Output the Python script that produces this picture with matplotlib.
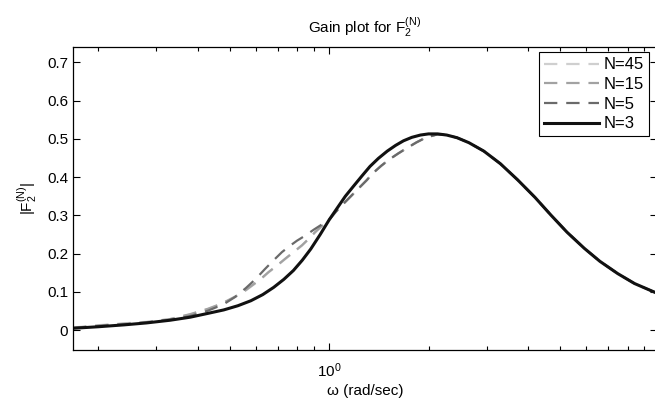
import matplotlib
matplotlib.use("Agg")
import matplotlib.pyplot as plt
from matplotlib.ticker import FixedLocator, FuncFormatter, LogLocator, NullFormatter

plt.rcParams['font.family'] = ['Liberation Sans', 'DejaVu Sans']
plt.rcParams['mathtext.default'] = 'regular'

# N=3 (solid)
w_n3 = [0.168, 0.20, 0.24, 0.28, 0.33, 0.38, 0.43, 0.48, 0.53, 0.58, 0.63, 0.68, 0.73,
        0.78, 0.83, 0.88, 0.94, 1.0, 1.06, 1.12, 1.19, 1.26, 1.33, 1.41, 1.50, 1.59,
        1.68, 1.78, 1.89, 2.0, 2.13, 2.27, 2.44, 2.65, 2.94, 3.3, 3.72, 4.2, 4.69,
        5.25, 5.92, 6.6, 7.47, 8.4, 9.8]
g_n3 = [0.005, 0.009, 0.014, 0.019, 0.026, 0.034, 0.044, 0.053, 0.064, 0.077, 0.093,
        0.112, 0.133, 0.156, 0.183, 0.212, 0.250, 0.288, 0.320, 0.350, 0.378, 0.404,
        0.428, 0.449, 0.468, 0.483, 0.495, 0.504, 0.510, 0.513, 0.513, 0.510, 0.503,
        0.490, 0.468, 0.435, 0.393, 0.347, 0.301, 0.256, 0.214, 0.180, 0.148, 0.122, 0.097]

# N=5 (dark dashed)
w_n5 = [0.168, 0.20, 0.24, 0.28, 0.33, 0.38, 0.43, 0.48, 0.52, 0.56, 0.60, 0.64, 0.68,
        0.72, 0.76, 0.80, 0.85, 0.90, 0.95, 1.0, 1.05, 1.11, 1.17, 1.23, 1.30, 1.36,
        1.44, 1.52, 1.62, 1.72, 1.84, 1.96, 2.13, 2.27, 2.44, 2.65, 2.94, 3.3, 3.72,
        4.2, 4.69, 5.25, 5.92, 6.6, 7.47, 8.4, 9.8]
g_n5 = [0.006, 0.011, 0.015, 0.020, 0.027, 0.037, 0.051, 0.068, 0.087, 0.110, 0.134,
        0.160, 0.183, 0.204, 0.220, 0.234, 0.248, 0.263, 0.276, 0.289, 0.310, 0.332,
        0.352, 0.371, 0.392, 0.411, 0.430, 0.446, 0.462, 0.476, 0.491, 0.503, 0.512,
        0.510, 0.503, 0.490, 0.468, 0.435, 0.393, 0.347, 0.301, 0.256, 0.214, 0.180,
        0.148, 0.122, 0.097]

# N=15 (mid-gray dashed)
w_n15 = [0.168, 0.20, 0.24, 0.28, 0.33, 0.38, 0.43, 0.474, 0.52, 0.56, 0.591, 0.625,
         0.656, 0.70, 0.737, 0.78, 0.828, 0.87, 0.909, 0.95, 1.0, 1.05, 1.11, 1.17,
         1.23, 1.30, 1.36, 1.44, 1.52, 1.62, 1.72, 1.84, 1.96, 2.13, 2.27, 2.44, 2.65,
         2.94, 3.3, 3.72, 4.2, 4.69, 5.25, 5.92, 6.6, 7.47, 8.4, 9.8]
g_n15 = [0.006, 0.012, 0.017, 0.021, 0.029, 0.042, 0.056, 0.070, 0.088, 0.105, 0.120,
         0.136, 0.152, 0.171, 0.187, 0.204, 0.222, 0.240, 0.257, 0.272, 0.288, 0.310,
         0.332, 0.352, 0.371, 0.392, 0.411, 0.430, 0.446, 0.462, 0.476, 0.491, 0.503,
         0.512, 0.510, 0.503, 0.490, 0.468, 0.435, 0.393, 0.347, 0.301, 0.256, 0.214,
         0.180, 0.148, 0.122, 0.097]

# N=45 (light dashed)
w_n45 = [0.168, 0.20, 0.24, 0.28, 0.33, 0.38, 0.43, 0.474, 0.52, 0.56, 0.591, 0.625,
         0.656, 0.70, 0.737, 0.78, 0.828, 0.87, 0.909, 0.95, 1.0, 1.05, 1.11, 1.17,
         1.23, 1.30, 1.36, 1.44, 1.52, 1.62, 1.72, 1.84, 1.96, 2.13, 2.27, 2.44, 2.65,
         2.94, 3.3, 3.72, 4.2, 4.69, 5.25, 5.92, 6.6, 7.47, 8.4, 9.8]
g_n45 = [0.007, 0.013, 0.018, 0.022, 0.029, 0.041, 0.055, 0.069, 0.087, 0.104, 0.119,
         0.135, 0.151, 0.170, 0.186, 0.203, 0.221, 0.239, 0.256, 0.271, 0.288, 0.310,
         0.332, 0.352, 0.371, 0.392, 0.411, 0.430, 0.446, 0.462, 0.476, 0.491, 0.503,
         0.512, 0.510, 0.503, 0.490, 0.468, 0.435, 0.393, 0.347, 0.301, 0.256, 0.214,
         0.180, 0.148, 0.122, 0.097]

y_ticks = [0, 0.1, 0.2, 0.3, 0.4, 0.5, 0.6, 0.7]

fig = plt.figure(figsize=(6.55, 4.09), dpi=100)
ax = fig.add_axes([0.1115, 0.144, 0.891, 0.741])

dash = (6, 4)
ax.plot(w_n45, g_n45, color='#cfcfcf', lw=1.6, dashes=dash, label='N=45')
ax.plot(w_n15, g_n15, color='#a2a2a2', lw=1.6, dashes=dash, label='N=15')
ax.plot(w_n5, g_n5, color='#6a6a6a', lw=1.6, dashes=dash, label='N=5')
ax.plot(w_n3, g_n3, color='#111111', lw=2.2, label='N=3')

ax.set_xscale('log')
ax.set_xlim(0.168, 9.8)
ax.set_ylim(-0.052, 0.74)
ax.yaxis.set_major_locator(FixedLocator(y_ticks))
ax.yaxis.set_major_formatter(FuncFormatter(lambda v, p: '%g' % v))
ax.xaxis.set_major_locator(LogLocator(base=10))
ax.xaxis.set_minor_locator(LogLocator(base=10, subs=range(2, 10)))
ax.xaxis.set_minor_formatter(NullFormatter())

ax.tick_params(which='both', direction='in', top=True, right=True, labelsize=11, width=0.8)
ax.tick_params(which='major', length=5)
ax.tick_params(which='minor', length=3)
ax.tick_params(axis='x', which='major', pad=8)
for s in ax.spines.values():
    s.set_linewidth(0.9)

ax.set_title('Gain plot for $F_2^{(N)}$', fontsize=11, pad=10)
ax.set_xlabel('ω (rad/sec)', fontsize=11, labelpad=3)
ax.set_ylabel('$|F_2^{(N)}|$', fontsize=11, labelpad=6)

leg = ax.legend(loc='upper right', fontsize=12, handlelength=3.3, frameon=True,
                fancybox=False, bbox_to_anchor=(0.987, 0.982), borderaxespad=0.0,
                labelspacing=0.28, handletextpad=0.3, borderpad=0.3)
leg.get_frame().set_edgecolor('black')
leg.get_frame().set_linewidth(0.8)
leg.get_frame().set_alpha(1)

fig.savefig('out.png', dpi=100)
